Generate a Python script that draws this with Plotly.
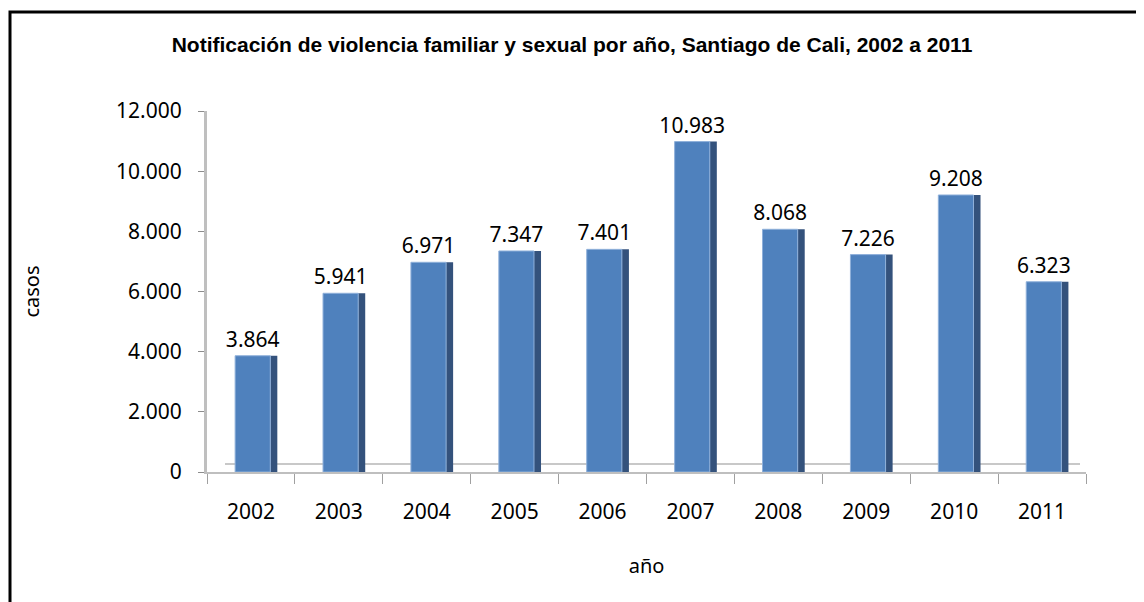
import plotly.graph_objects as go

years = ["2002", "2003", "2004", "2005", "2006", "2007", "2008", "2009", "2010", "2011"]
cases = [3864, 5941, 6971, 7347, 7401, 10983, 8068, 7226, 9208, 6323]
y_ticks = [0, 2000, 4000, 6000, 8000, 10000, 12000]

# the page adds an 8px body margin, so figure coordinates are page coordinates minus 8
W, H = 1144, 602
L, R, T, B = 199, 66, 103, 138
pw = W - L - R
ph = H - T - B


def px_x(p):
    return (p - L) / pw


def px_y(p):
    return (H - B - p) / ph


fig = go.Figure()
# side (shaded) face
fig.add_trace(go.Bar(
    x=years, y=cases, width=0.08, offset=0.22,
    marker=dict(color="#34527C", line=dict(width=0)),
    hoverinfo="skip", showlegend=False,
))
# front face
fig.add_trace(go.Bar(
    x=years, y=cases, width=0.40, offset=-0.18,
    marker=dict(color="#4F81BD", line=dict(color="#8FB0DA", width=1)),
    text=cases, texttemplate="%{y:,}", textposition="outside",
    textfont=dict(family="Noto Sans", size=21, color="#000000"),
    constraintext="none", cliponaxis=False, showlegend=False,
))

# outer border (only left and top edges are inside the window)
fig.add_shape(type="rect", xref="paper", yref="paper",
              x0=px_x(2), x1=px_x(1170), y0=px_y(640), y1=px_y(4),
              line=dict(color="#000000", width=3), fillcolor="rgba(0,0,0,0)", layer="below")
# back edge of the floor
fig.add_shape(type="line", xref="paper", yref="paper",
              x0=px_x(L + 18), x1=px_x(W - R - 6), y0=px_y(H - B - 8), y1=px_y(H - B - 8),
              line=dict(color="#C8C8C8", width=2), layer="below")

fig.update_layout(
    width=W, height=H,
    margin=dict(l=L, r=R, t=T, b=B),
    paper_bgcolor="white", plot_bgcolor="white",
    separators=",.",
    barmode="overlay",
    title=dict(text="<b>Notificación de violencia familiar y sexual por año, Santiago de Cali, 2002 a 2011</b>",
               x=564 / W, xanchor="center", y=1 - 37 / H, yanchor="middle",
               font=dict(family="Liberation Sans", size=21, color="#000000")),
    xaxis=dict(
        type="category", range=[-0.5, 9.5],
        showline=True, linecolor="#BFBFBF", linewidth=2,
        ticks="outside", tickson="boundaries", ticklen=10, tickcolor="#A0A0A0",
        ticklabelstandoff=20,
        tickfont=dict(family="Noto Sans", size=21, color="#000000"),
        title=dict(text="año", standoff=35, font=dict(family="Noto Sans", size=20, color="#000000")),
        showgrid=False, zeroline=False,
    ),
    yaxis=dict(
        range=[0, 12000], tickvals=y_ticks, tickformat=",",
        showline=True, linecolor="#BFBFBF", linewidth=3,
        ticks="outside", ticklen=6, tickcolor="#8C8C8C",
        ticklabelstandoff=12,
        tickfont=dict(family="Noto Sans", size=21, color="#000000"),
        title=dict(text="casos", standoff=72, font=dict(family="Noto Sans", size=20, color="#000000")),
        showgrid=False, zeroline=False,
    ),
)

fig.write_html("out.html")
